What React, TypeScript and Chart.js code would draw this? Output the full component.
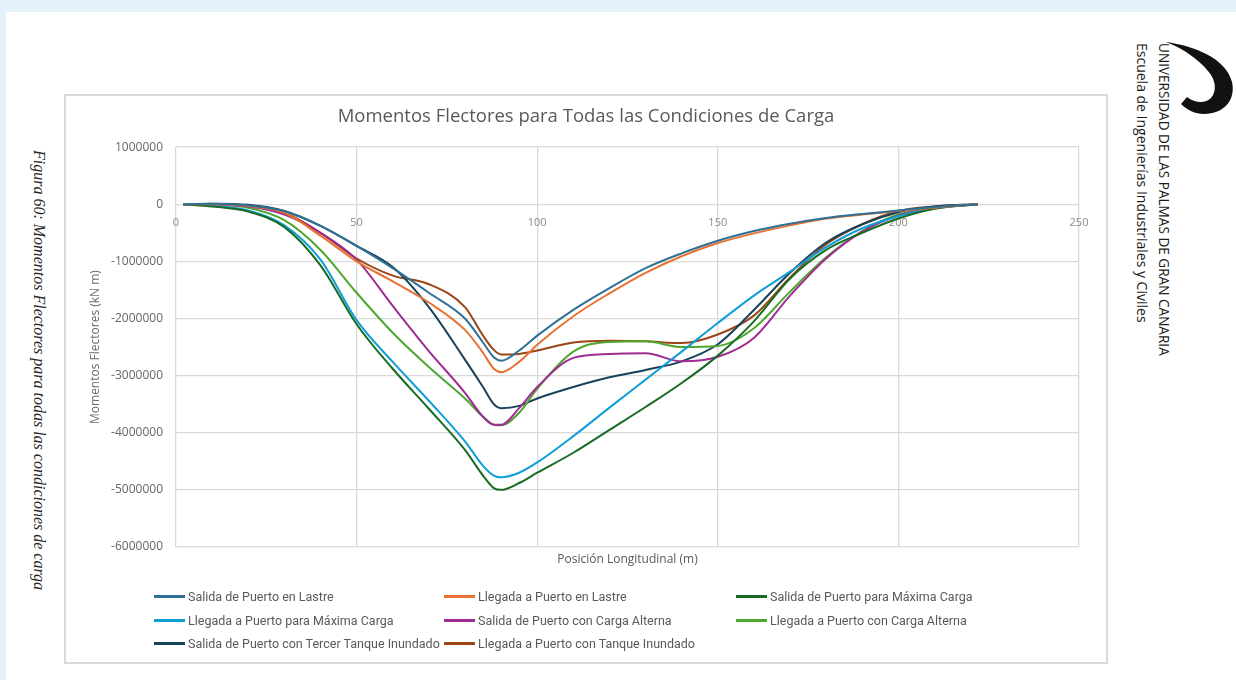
import React, { useEffect, useRef } from "react";
import { Chart, registerables } from "chart.js";

Chart.register(...registerables);

// ---- Data (kN·m) ----
const positions = [2, 10, 20, 30, 40, 50, 60, 70, 80, 85, 88, 90, 95, 100, 110, 120, 130, 140, 150, 160, 170, 180, 190, 200, 210, 222];

const salidaLastre = [0, 10000, -20000, -120000, -380000, -730000, -1120000, -1550000, -2000000, -2420000, -2680000, -2740000, -2560000, -2300000, -1850000, -1470000, -1120000, -860000, -640000, -470000, -340000, -240000, -170000, -110000, -50000, 0];
const llegadaLastre = [0, 0, -30000, -150000, -550000, -1000000, -1350000, -1720000, -2200000, -2600000, -2880000, -2940000, -2760000, -2460000, -1960000, -1560000, -1200000, -910000, -680000, -510000, -370000, -250000, -180000, -120000, -60000, 0];
const salidaMaxima = [0, -40000, -130000, -400000, -1070000, -2100000, -2880000, -3580000, -4300000, -4750000, -4970000, -5000000, -4880000, -4700000, -4350000, -3950000, -3550000, -3130000, -2650000, -2050000, -1300000, -800000, -500000, -250000, -80000, 0];
const llegadaMaxima = [0, -30000, -110000, -370000, -970000, -2030000, -2760000, -3440000, -4150000, -4580000, -4750000, -4780000, -4700000, -4520000, -4060000, -3560000, -3070000, -2580000, -2080000, -1600000, -1180000, -750000, -420000, -210000, -70000, 0];
const salidaAlterna = [0, -10000, -40000, -180000, -500000, -970000, -1780000, -2570000, -3300000, -3720000, -3860000, -3860000, -3570000, -3200000, -2690000, -2620000, -2610000, -2750000, -2670000, -2340000, -1600000, -950000, -480000, -200000, -60000, 0];
const llegadaAlterna = [0, -10000, -60000, -280000, -800000, -1550000, -2250000, -2850000, -3400000, -3720000, -3860000, -3870000, -3650000, -3230000, -2580000, -2410000, -2400000, -2500000, -2480000, -2170000, -1530000, -930000, -470000, -180000, -60000, 0];
const salidaTercerTanque = [0, 10000, -10000, -120000, -380000, -730000, -1100000, -1800000, -2720000, -3200000, -3500000, -3570000, -3530000, -3400000, -3200000, -3030000, -2900000, -2750000, -2450000, -1850000, -1200000, -670000, -350000, -140000, -40000, 0];
const llegadaTanque = [0, 0, -30000, -150000, -500000, -950000, -1250000, -1400000, -1800000, -2300000, -2550000, -2630000, -2620000, -2560000, -2420000, -2390000, -2400000, -2430000, -2280000, -1950000, -1280000, -700000, -350000, -120000, -40000, 0];

const seriesValues = [salidaLastre, llegadaLastre, salidaMaxima, llegadaMaxima, salidaAlterna, llegadaAlterna, salidaTercerTanque, llegadaTanque];

const seriesLabels = [
  "Salida de Puerto en Lastre",
  "Llegada a Puerto en Lastre",
  "Salida de Puerto para Máxima Carga",
  "Llegada a Puerto para Máxima Carga",
  "Salida de Puerto con Carga Alterna",
  "Llegada a Puerto con Carga Alterna",
  "Salida de Puerto con Tercer Tanque Inundado",
  "Llegada a Puerto con Tanque Inundado",
];

const seriesColors = ["#2f7196", "#e97132", "#196b24", "#0f9ed5", "#a02b93", "#4ea72e", "#16425a", "#9c4515"];

const xTickValues = [0, 50, 100, 150, 200, 250];
const yTickValues = [1000000, 0, -1000000, -2000000, -3000000, -4000000, -5000000, -6000000];

const chartTitle = "Momentos Flectores para Todas las Condiciones de Carga";
const xTitle = "Posición Longitudinal (m)";
const yTitle = "Momentos Flectores (kN m)";
const caption = "Figura 60: Momentos Flectores para todas las condiciones de carga";
const logoLines = ["UNIVERSIDAD DE LAS PALMAS DE GRAN CANARIA", "Escuela de Ingenierías Industriales y Civiles"];

const GRID = "#d9d9d9";
const SANS = '"Open Sans", "Noto Sans", sans-serif';

export default function App() {
  const canvasRef = useRef<HTMLCanvasElement | null>(null);

  useEffect(() => {
    if (!canvasRef.current) return;
    const chart = new Chart(canvasRef.current, {
      type: "line",
      data: {
        datasets: seriesValues.map((vals, i) => ({
          label: seriesLabels[i],
          data: positions.map((x, j) => ({ x, y: vals[j] })),
          borderColor: seriesColors[i],
          backgroundColor: seriesColors[i],
          borderWidth: 2,
          pointRadius: 0,
          cubicInterpolationMode: "monotone" as const,
          fill: false,
          xAxisID: "x",
          yAxisID: "y",
        })),
      },
      options: {
        animation: false,
        responsive: false,
        devicePixelRatio: 1,
        layout: { padding: { left: 0, right: 0, top: 0, bottom: 95 } },
        plugins: {
          legend: { display: false },
          tooltip: { enabled: false },
          title: {
            display: true,
            text: chartTitle,
            color: "#595959",
            font: { family: SANS, size: 18.5, weight: "normal" as const },
            padding: { top: 9.9, bottom: 19 },
          },
        },
        scales: {
          x: {
            type: "linear",
            min: 0,
            max: 250,
            position: { y: 0 } as any,
            afterBuildTicks: (s: any) => {
              s.ticks = xTickValues.map((v) => ({ value: v }));
            },
            afterFit: (s: any) => {
              s.height = 0;
            },
            grid: { color: GRID, lineWidth: 1.3, drawTicks: false },
            border: { display: false },
            ticks: {
              color: "#8a8a8a",
              font: { family: SANS, size: 11 },
              padding: 12,
              maxRotation: 0,
            },
          },
          xTitleAxis: {
            type: "linear",
            axis: "x",
            position: "bottom",
            min: 0,
            max: 250,
            grid: { display: false },
            border: { display: false },
            ticks: { display: false },
            afterFit: (s: any) => {
              s.height = 20;
            },
            title: {
              display: true,
              text: xTitle,
              color: "#595959",
              font: { family: SANS, size: 12 },
              padding: { top: 0, bottom: 0.4 },
            },
          },
          y: {
            type: "linear",
            min: -6000000,
            max: 1000000,
            afterBuildTicks: (s: any) => {
              s.ticks = yTickValues.map((v) => ({ value: v }));
            },
            afterFit: (s: any) => {
              s.width = 110;
            },
            grid: { color: GRID, lineWidth: 1.3, drawTicks: false },
            border: { display: false },
            ticks: {
              color: "#666666",
              font: { family: SANS, size: 12 },
              padding: 13,
              callback: (v: any) => String(v),
            },
            title: {
              display: true,
              text: yTitle,
              color: "#6b6b6b",
              font: { family: SANS, size: 12 },
              padding: { top: 22, bottom: 0 },
            },
          },
          ySpacer: {
            type: "linear",
            axis: "y",
            position: "right",
            min: -6000000,
            max: 1000000,
            grid: { display: false },
            border: { display: false },
            ticks: { display: false },
            afterFit: (s: any) => {
              s.width = 27;
            },
          },
        },
      },
    });
    return () => chart.destroy();
  }, []);

  return (
    <div
      style={{
        position: "absolute",
        left: 0,
        top: 0,
        width: 1236,
        height: 680,
        background: "#e3f2fa",
        overflow: "hidden",
      }}
    >
      <div
        style={{
          position: "absolute",
          left: 6,
          top: 12,
          width: 1230,
          height: 668,
          background: "#ffffff",
        }}
      />
      {/* caption */}
      <div
        style={{
          position: "absolute",
          left: 28,
          top: 150,
          writingMode: "vertical-rl",
          fontFamily: '"Liberation Serif", "DejaVu Serif", serif',
          fontStyle: "italic",
          fontSize: 16,
          lineHeight: "22px",
          color: "#262626",
          whiteSpace: "nowrap",
        }}
      >
        {caption}
      </div>
      {/* logo */}
      <svg
        style={{ position: "absolute", left: 1162, top: 36 }}
        width={74}
        height={82}
        viewBox="0 0 74 82"
      >
        <path
          d="M4 6 C32 10 64 22 70 46 C74 64 62 78 42 78 C33 78 25 74 19 68 L25 61 C33 67 43 68 49 62 C55 55 54 44 46 35 C36 23 22 13 4 6 Z"
          fill="#111111"
        />
      </svg>
      <div
        style={{
          position: "absolute",
          left: 1131,
          top: 43,
          writingMode: "vertical-rl",
          fontFamily: SANS,
          fontSize: 14,
          lineHeight: "22px",
          color: "#1a1a1a",
          whiteSpace: "nowrap",
        }}
      >
        <div style={{ fontSize: 13.6 }}>{logoLines[0]}</div>
        <div>{logoLines[1]}</div>
      </div>
      {/* chart box */}
      <div
        style={{
          position: "absolute",
          left: 64,
          top: 94,
          width: 1040,
          height: 566,
          border: "2px solid #dadada",
          background: "#ffffff",
        }}
      >
        <canvas
          ref={canvasRef}
          width={1040}
          height={566}
          style={{ display: "block", width: 1040, height: 566 }}
        />
      </div>
      {/* legend */}
      <div
        style={{
          position: "absolute",
          left: 154,
          top: 585,
          display: "grid",
          gridTemplateColumns: "290px 292px 290px",
          gridAutoRows: "23.5px",
          fontFamily: 'Roboto, "Open Sans", sans-serif',
          fontSize: 12.5,
          color: "#595959",
        }}
      >
        {seriesLabels.map((label, i) => (
          <div key={label} style={{ display: "flex", alignItems: "center", whiteSpace: "nowrap" }}>
            <span
              style={{
                display: "inline-block",
                flexShrink: 0,
                width: 31,
                height: 3,
                background: seriesColors[i],
                marginRight: 3,
              }}
            />
            <span>{label}</span>
          </div>
        ))}
      </div>
    </div>
  );
}
